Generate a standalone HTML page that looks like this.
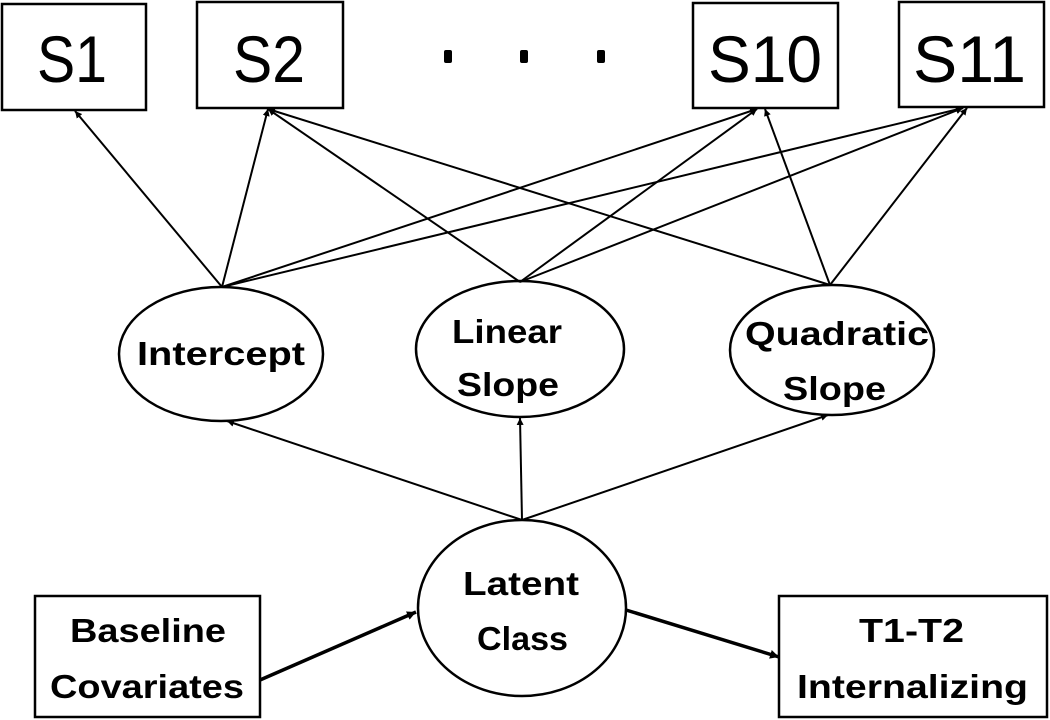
<!DOCTYPE html>
<html><head><meta charset="utf-8"><style>html,body{margin:0;padding:0;background:#fff}svg{display:block}</style></head>
<body>
<svg width="1050" height="720" viewBox="0 0 1050 720" xmlns="http://www.w3.org/2000/svg">
<defs>
<marker id="a" viewBox="0 0 10 10" refX="10" refY="5" markerWidth="7" markerHeight="7" markerUnits="userSpaceOnUse" orient="auto"><path d="M0,0 L10,5 L0,10 z" fill="#000"/></marker>
<marker id="b" viewBox="0 0 10 10" refX="10" refY="5" markerWidth="9" markerHeight="9" markerUnits="userSpaceOnUse" orient="auto"><path d="M0,0 L10,5 L0,10 z" fill="#000"/></marker>
</defs>
<g fill="#fff" stroke="#000" stroke-width="2.5">
<rect x="2" y="4" width="144" height="106"/>
<rect x="197" y="2" width="146" height="106"/>
<rect x="693" y="3" width="145" height="105"/>
<rect x="899" y="2" width="145" height="105"/>
<ellipse cx="221" cy="354" rx="102" ry="67"/>
<ellipse cx="520" cy="349" rx="104" ry="68"/>
<ellipse cx="832" cy="350" rx="102" ry="65"/>
<ellipse cx="522" cy="608" rx="104" ry="88"/>
<rect x="35" y="596" width="225" height="121"/>
<rect x="779" y="596" width="268" height="121"/>
</g>
<g fill="#000">
<rect x="444" y="50" width="8" height="13" rx="2"/>
<rect x="520" y="50" width="8" height="13" rx="2"/>
<rect x="597" y="50" width="8" height="13" rx="2"/>
</g>
<g stroke="#000" stroke-width="2" fill="none" marker-end="url(#a)">
<line x1="222" y1="287" x2="75" y2="111"/>
<line x1="222" y1="287" x2="268" y2="109"/>
<line x1="222" y1="287" x2="757" y2="109"/>
<line x1="222" y1="287" x2="963" y2="108"/>
<line x1="520" y1="282" x2="268" y2="109"/>
<line x1="520" y1="282" x2="757" y2="109"/>
<line x1="520" y1="282" x2="963" y2="108"/>
<line x1="830" y1="285" x2="268" y2="109"/>
<line x1="830" y1="285" x2="765" y2="109"/>
<line x1="830" y1="285" x2="967" y2="108"/>
<line x1="522" y1="520" x2="227" y2="421"/>
<line x1="522" y1="520" x2="520" y2="418"/>
<line x1="522" y1="520" x2="828" y2="415"/>
</g>
<g stroke="#000" stroke-width="3.5" fill="none" marker-end="url(#b)">
<line x1="260" y1="680" x2="416" y2="612"/>
<line x1="626" y1="610" x2="779" y2="657"/>
</g>
<g font-family="'Liberation Sans Narrow','Liberation Sans',sans-serif" fill="#000">
<text x="37" y="82" font-size="66" textLength="70" lengthAdjust="spacingAndGlyphs">S1</text>
<text x="233" y="82" font-size="66" textLength="72" lengthAdjust="spacingAndGlyphs">S2</text>
<text x="708" y="82" font-size="66" textLength="114" lengthAdjust="spacingAndGlyphs">S10</text>
<text x="913" y="82" font-size="66" textLength="113" lengthAdjust="spacingAndGlyphs">S11</text>
</g>
<g font-family="'Liberation Sans Narrow','Liberation Sans',sans-serif" font-weight="bold" font-size="33" fill="#000">
<text x="137" y="365" textLength="168" lengthAdjust="spacingAndGlyphs">Intercept</text>
<text x="452" y="343" textLength="110" lengthAdjust="spacingAndGlyphs">Linear</text>
<text x="457" y="396" textLength="102" lengthAdjust="spacingAndGlyphs">Slope</text>
<text x="745" y="345" textLength="184" lengthAdjust="spacingAndGlyphs">Quadratic</text>
<text x="783" y="400" textLength="103" lengthAdjust="spacingAndGlyphs">Slope</text>
<text x="463" y="595" textLength="116" lengthAdjust="spacingAndGlyphs">Latent</text>
<text x="477" y="650" textLength="91" lengthAdjust="spacingAndGlyphs">Class</text>
<text x="70" y="642" textLength="156" lengthAdjust="spacingAndGlyphs">Baseline</text>
<text x="50" y="698" textLength="194" lengthAdjust="spacingAndGlyphs">Covariates</text>
<text x="859" y="642" textLength="105" lengthAdjust="spacingAndGlyphs">T1-T2</text>
<text x="797" y="698" textLength="231" lengthAdjust="spacingAndGlyphs">Internalizing</text>
</g>
</svg>
</body></html>
